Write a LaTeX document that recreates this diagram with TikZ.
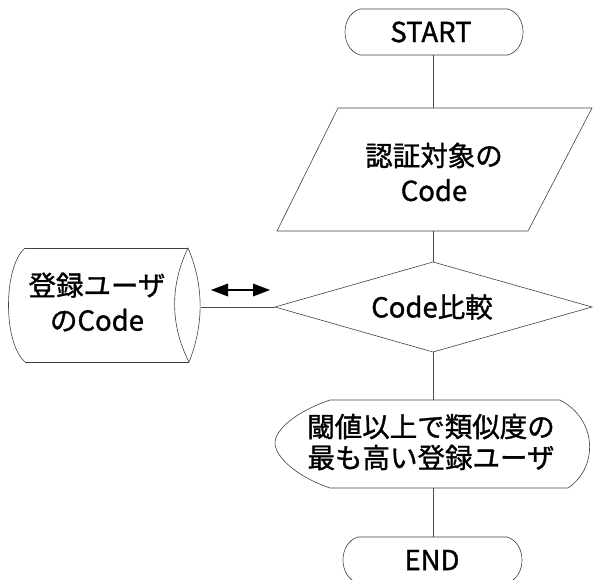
\documentclass[tikz,border=0pt]{standalone}
\usepackage{fontspec}
\setmainfont{Noto Sans CJK JP}[FakeBold=1.2]
\usetikzlibrary{arrows.meta}
\tikzset{
  outline/.style={draw=black!75, line width=0.6pt},
  link/.style={draw=black!70, line width=0.6pt},
  label/.style={font=\fontsize{27.5}{35}\selectfont, align=center, inner sep=0pt, text=black},
  headfill/.style={fill=black, draw=none},
}
\begin{document}
\begin{tikzpicture}[x=1pt,y=-1pt]
\useasboundingbox (0,0) rectangle (599,580);
\clip (0,0) rectangle (599,580);
% START terminal
\draw[outline] (360,9) -- (508,9) .. controls (528,15) and (528,49) .. (508,55) -- (360,55) .. controls (340,49) and (340,15) .. (360,9) -- cycle;
\node[label] (start) at (431,32) {START};
\coordinate (startB) at (433,55);
% input parallelogram
\draw[outline] (338,108) -- (592,108) -- (528,231) -- (277,231) -- cycle;
\node[label] (input) at (434,172) {認証対象の\\Code};
\coordinate (inputT) at (433,108);
\coordinate (inputB) at (433,231);
% decision diamond
\draw[outline] (433,262) -- (592,307) -- (433,352) -- (275,307) -- cycle;
\node[label] (cmp) at (432,307) {Code比較};
\coordinate (cmpT) at (433,262);
\coordinate (cmpB) at (433,352);
\coordinate (cmpL) at (275,307);
% stored data cylinder
\draw[outline] (25,248) -- (188,248) (25,362) -- (189,362);
\draw[outline] (25,248) .. controls (3,267) and (3,343) .. (25,362);
\draw[outline] (188,248) .. controls (170,285) and (170,325) .. (189,362) .. controls (204,325) and (204,285) .. (188,248) -- cycle;
\node[label] (db) at (97,302) {登録ユーザ\\のCode};
\coordinate (dbR) at (201,307);
% display shape
\draw[outline] (330,400) -- (560,400) .. controls (598,420) and (598,468) .. (568,488) -- (330,488) .. controls (295,476) and (275,456) .. (275,443) .. controls (275,430) and (295,412) .. (330,400) -- cycle;
\node[label, font=\fontsize{27.5}{31}\selectfont] (disp) at (431,442) {閾値以上で類似度の\\最も高い登録ユーザ};
\coordinate (dispT) at (433,400);
\coordinate (dispB) at (433,488);
% END terminal
\draw[outline] (358,537) -- (507,537) .. controls (527,543) and (527,577) .. (507,583) -- (358,583) .. controls (338,577) and (338,543) .. (358,537) -- cycle;
\node[label] (end) at (432,560) {END};
\coordinate (endT) at (433,537);
% connectors
\draw[link] (startB) -- (inputT);
\draw[link] (inputB) -- (cmpT);
\draw[link] (cmpB) -- (dispT);
\draw[link] (dispB) -- (endT);
\draw[link] (dbR) -- (cmpL);
\coordinate (arrL) at (211,290);
\coordinate (arrR) at (270,290);
\draw[line width=2.2pt] ([xshift=12pt]arrL) -- ([xshift=-12pt]arrR);
\fill[headfill] (arrL) -- ++(17,-6.5) -- ++(0,13) -- cycle;
\fill[headfill] (arrR) -- ++(-17,-6.5) -- ++(0,13) -- cycle;
\end{tikzpicture}
\end{document}
